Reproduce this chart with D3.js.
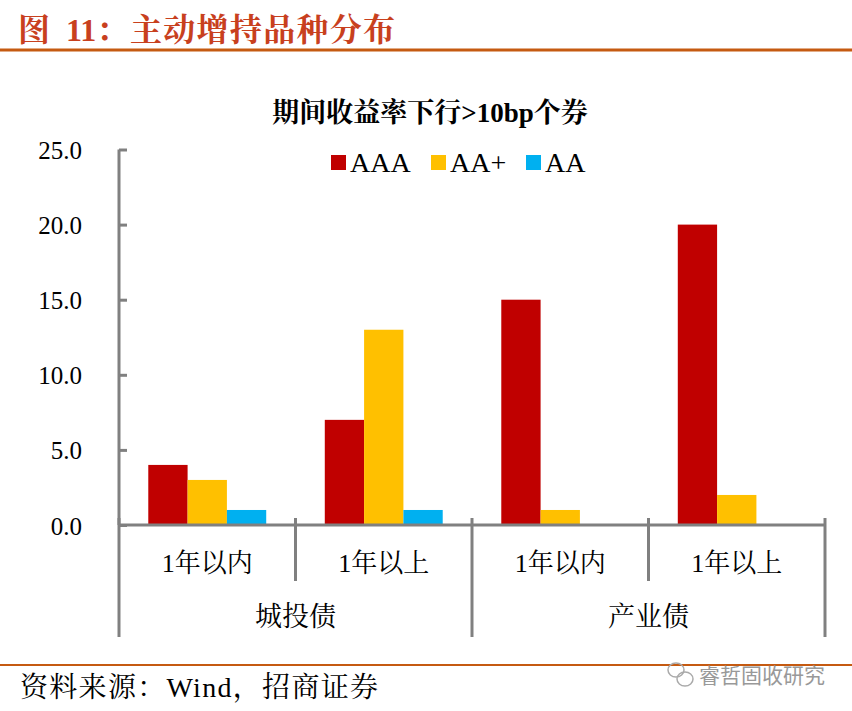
<!DOCTYPE html>
<html><head><meta charset="utf-8">
<script src="https://cdn.jsdelivr.net/npm/d3@7"></script>
<style>body{margin:0;background:#fff}svg{display:block}</style>
</head><body>
<script>
const groups = ["城投债", "产业债"];
const subCats = ["1年以内", "1年以上"];
const categories = ["城投债|1年以内", "城投债|1年以上", "产业债|1年以内", "产业债|1年以上"];
const seriesNames = ["AAA", "AA+", "AA"];
const AAA = [4, 7, 15, 20];
const AAplus = [3, 13, 1, 2];
const AA = [1, 1, 0, 0];
const yTicks = [0, 5, 10, 15, 20, 25];
const colors = ["#C00000", "#FFC000", "#00B0F0"];
const seriesVals = [AAA, AAplus, AA];

const W = 852, H = 711;
const serif = "'Liberation Serif','Noto Serif CJK SC','Noto Sans CJK SC',serif";
const svg = d3.select("body").append("svg").attr("width", W).attr("height", H);

// header
const ht = svg.append("text").attr("y", 41).attr("fill", "#C8401E")
  .attr("font-family", serif).attr("font-size", 32).attr("font-weight", "bold");
ht.append("tspan").attr("x", 18).text("图");
ht.append("tspan").attr("x", 66).text("11：");
ht.append("tspan").attr("x", 130).attr("textLength", 265).text("主动增持品种分布");
svg.append("line").attr("x1", 0).attr("x2", W).attr("y1", 50).attr("y2", 50)
  .attr("stroke", "#C55A11").attr("stroke-width", 3);

// chart title
svg.append("text").attr("x", 430).attr("y", 122).attr("text-anchor", "middle")
  .attr("font-family", serif).attr("font-size", 27).attr("font-weight", "bold")
  .text("期间收益率下行>10bp个券");

const x0 = 119, x1 = 825, yTop = 149.5, yBot = 525;
const y = d3.scaleLinear().domain([0, 25]).range([yBot, yTop]);
const xb = d3.scaleBand().domain(categories).range([x0, x1]).paddingInner(0).paddingOuter(0);
const xs = d3.scaleBand().domain(seriesNames).range([0, xb.bandwidth()]).paddingOuter(0.745).paddingInner(0);

// bars
const g = svg.append("g");
seriesNames.forEach((s, si) => {
  g.selectAll(null).data(categories.map((c, i) => ({c, v: seriesVals[si][i]})))
    .enter().append("rect")
    .attr("x", d => xb(d.c) + xs(s))
    .attr("width", xs.bandwidth())
    .attr("y", d => y(d.v))
    .attr("height", d => yBot - y(d.v))
    .attr("fill", colors[si]);
});

// y axis
const yAxis = d3.axisLeft(y).tickValues(yTicks).tickFormat(d3.format(".1f")).tickSize(-8).tickPadding(37);
const ya = svg.append("g").attr("transform", `translate(${x0},0)`).call(yAxis);
ya.select(".domain").remove();
ya.selectAll(".tick line").attr("stroke", "#808080").attr("stroke-width", 3);
ya.selectAll(".tick text").attr("font-family", serif).attr("font-size", 25).attr("fill", "#000").attr("dy", "0.36em");
svg.append("line").attr("x1", x0).attr("x2", x0).attr("y1", yTop).attr("y2", yBot)
  .attr("stroke", "#808080").attr("stroke-width", 3);

// x axis
svg.append("line").attr("x1", x0).attr("x2", x1).attr("y1", yBot).attr("y2", yBot)
  .attr("stroke", "#808080").attr("stroke-width", 3);
// separators
const bounds = categories.map(c => xb(c)).concat([x1]);
bounds.forEach((b, i) => {
  const outer = (i % 2 === 0);
  svg.append("line").attr("x1", b).attr("x2", b).attr("y1", 518).attr("y2", outer ? 637 : 581)
    .attr("stroke", "#808080").attr("stroke-width", 3);
});
// sub labels
categories.forEach((c, i) => {
  svg.append("text").attr("x", xb(c) + xb.bandwidth() / 2).attr("y", 572)
    .attr("text-anchor", "middle").attr("font-family", serif).attr("font-size", 26)
    .text(subCats[i % 2]);
});
groups.forEach((gname, gi) => {
  const cx = (xb(categories[gi * 2]) + xb(categories[gi * 2 + 1]) + xb.bandwidth()) / 2;
  svg.append("text").attr("x", cx).attr("y", 626).attr("text-anchor", "middle")
    .attr("font-family", serif).attr("font-size", 27).text(gname);
});

// legend
const legX = [331, 431, 526];
seriesNames.forEach((s, i) => {
  svg.append("rect").attr("x", legX[i]).attr("y", 155).attr("width", 15).attr("height", 15).attr("fill", colors[i]);
  svg.append("text").attr("x", legX[i] + 19).attr("y", 172).attr("font-family", serif)
    .attr("font-size", 28).text(s);
});

// footer
svg.append("line").attr("x1", 0).attr("x2", W).attr("y1", 665).attr("y2", 665)
  .attr("stroke", "#C55A11").attr("stroke-width", 2);
svg.append("text").attr("x", 20).attr("y", 697).attr("font-family", serif).attr("font-size", 28)
  .attr("textLength", 358).text("资料来源：Wind，招商证券");
// watermark
const wm = svg.append("g").attr("fill", "none").attr("stroke", "#aaa").attr("stroke-width", 1.5);
wm.append("ellipse").attr("cx", 676).attr("cy", 670).attr("rx", 8).attr("ry", 7);
wm.append("ellipse").attr("cx", 685).attr("cy", 679).attr("rx", 8).attr("ry", 7);
svg.append("text").attr("x", 699).attr("y", 683).attr("font-family", "'Noto Sans CJK SC',sans-serif")
  .attr("font-size", 21).attr("fill", "#999").text("睿哲固收研究");
</script>
</body></html>
